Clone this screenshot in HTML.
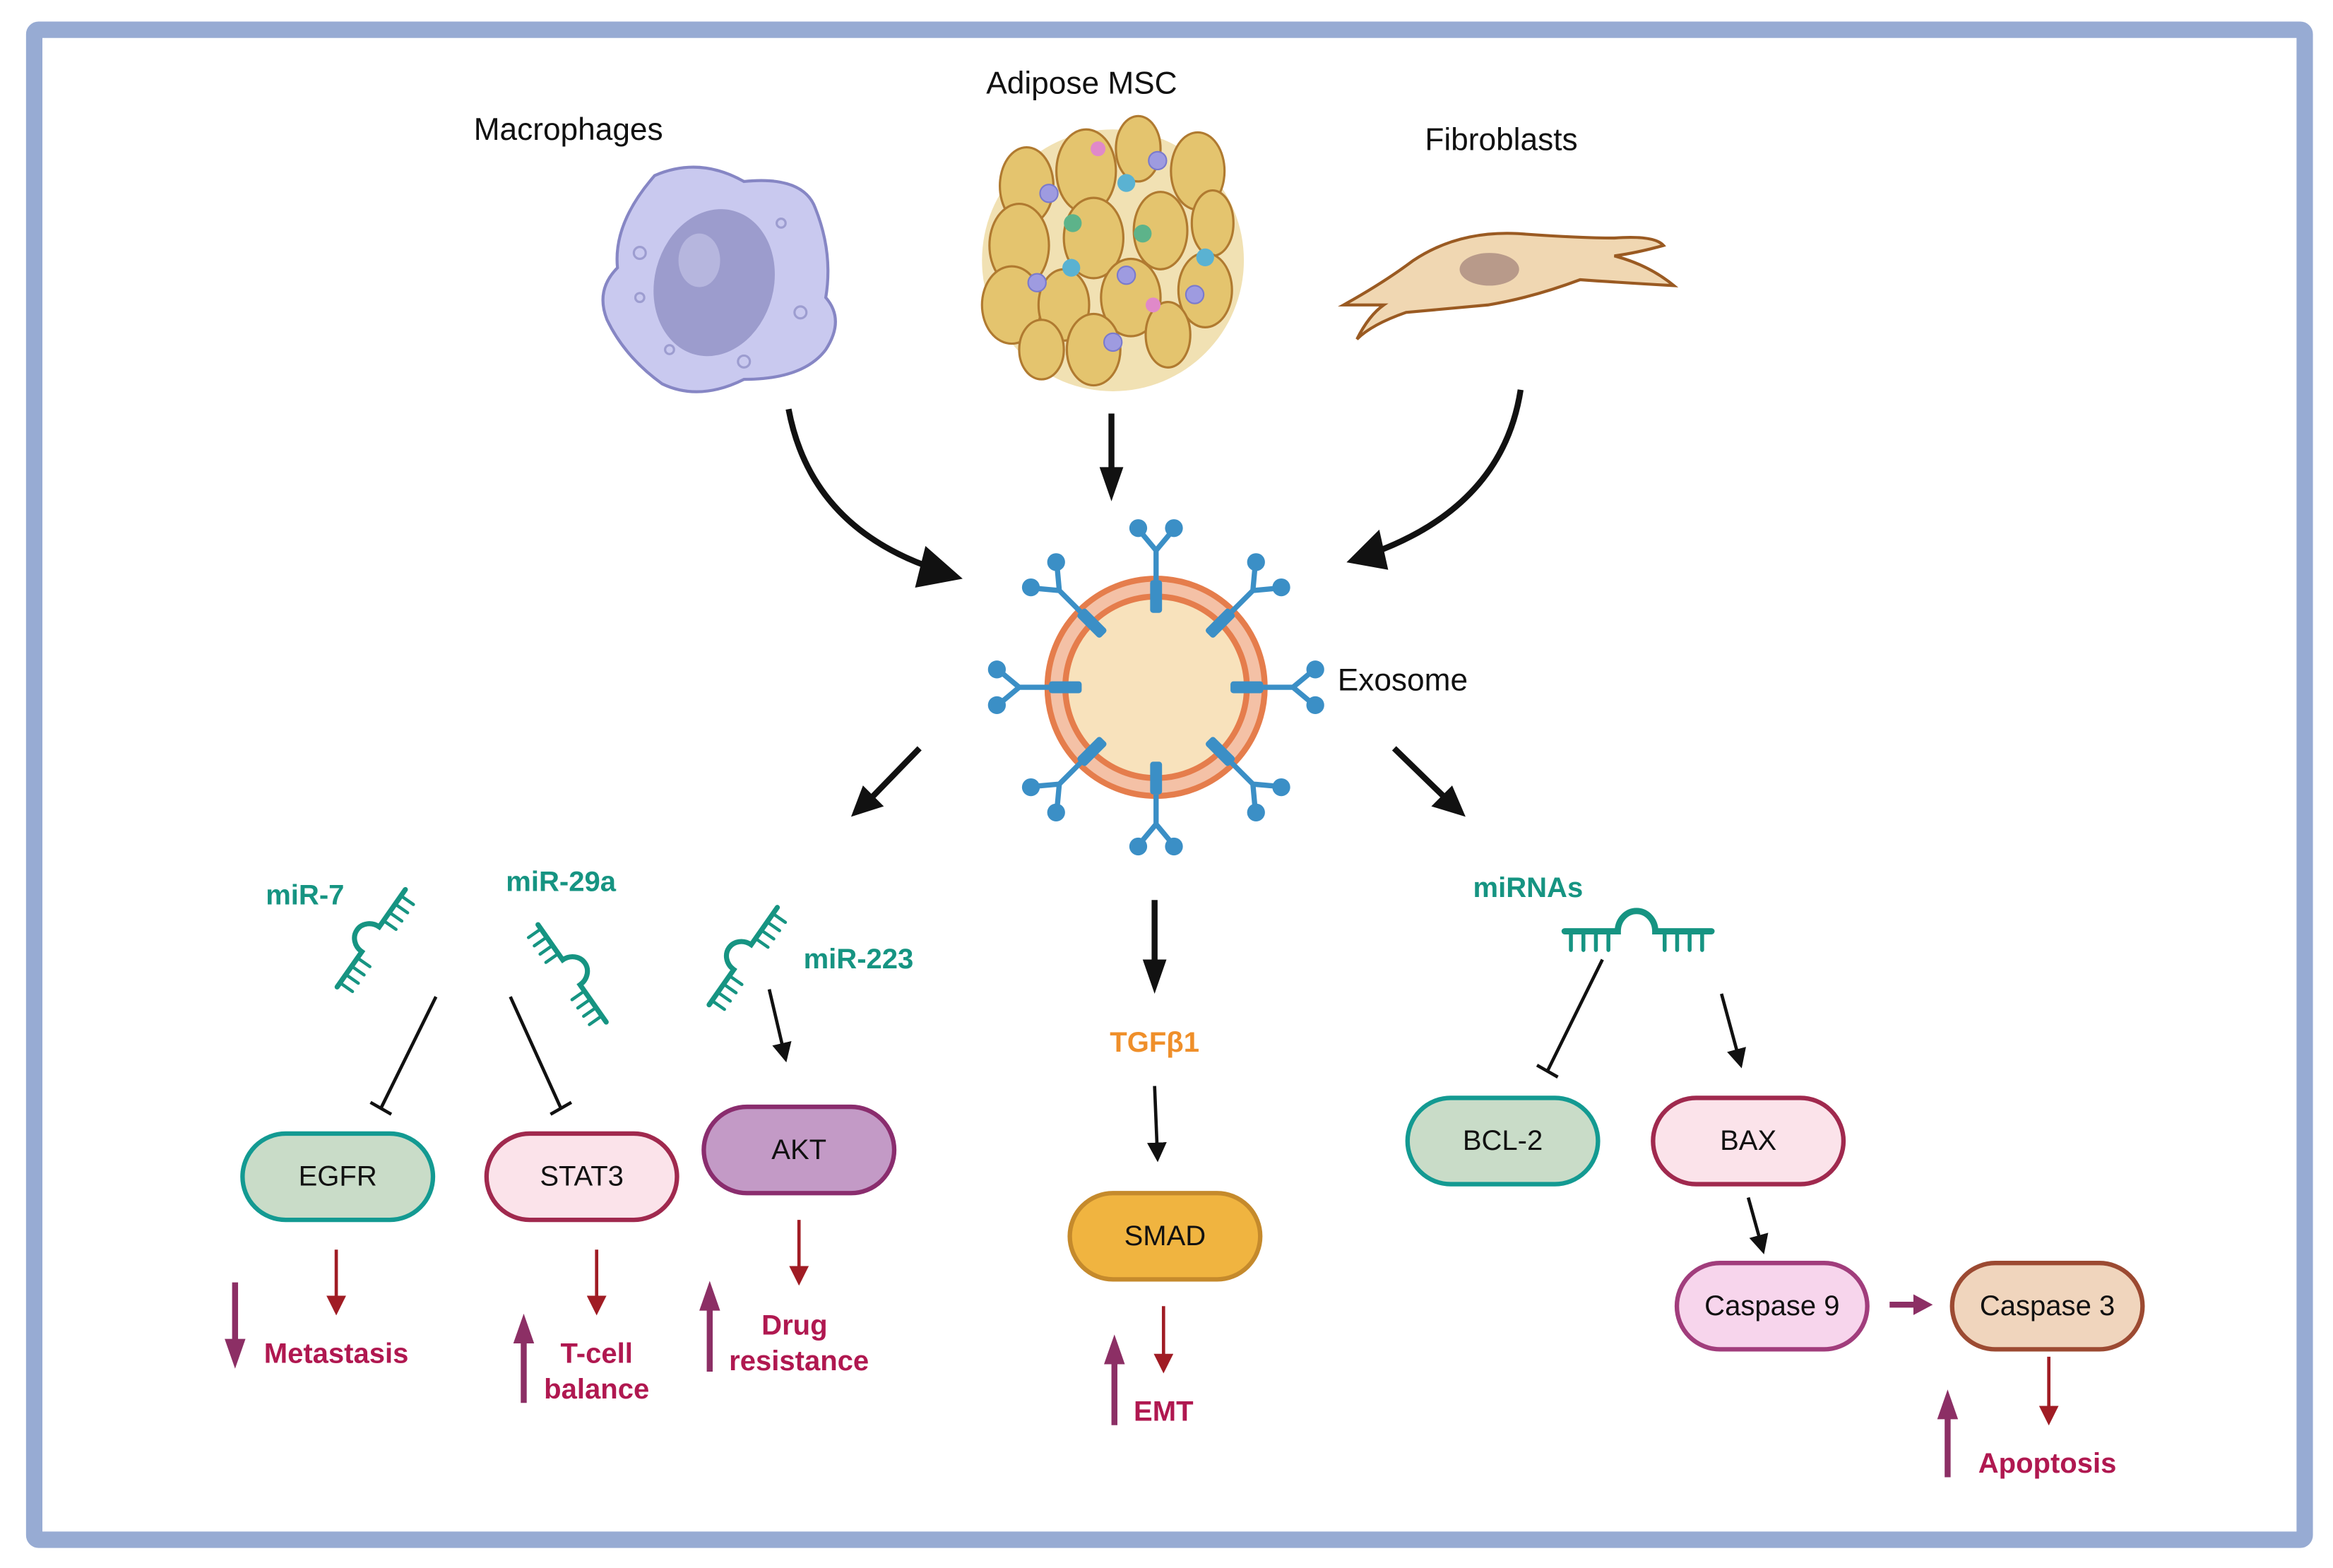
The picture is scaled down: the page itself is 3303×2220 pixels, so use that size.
<!DOCTYPE html>
<html><head><meta charset="utf-8"><style>
html,body{margin:0;padding:0;background:#fff;}
svg{display:block;}
text{font-family:"Liberation Sans",sans-serif;}
</style></head><body>
<svg width="3303" height="2220" viewBox="0 0 1568 1054" preserveAspectRatio="none" xmlns="http://www.w3.org/2000/svg">
<defs>
<marker id="ab" markerWidth="6" markerHeight="6" refX="5" refY="3" orient="auto" markerUnits="strokeWidth"><path d="M0,0 L6,3 L0,6 Z" fill="#111"/></marker>
<marker id="ar" markerWidth="6" markerHeight="6" refX="5" refY="3" orient="auto" markerUnits="strokeWidth"><path d="M0,0 L6,3 L0,6 Z" fill="#a01c24"/></marker>
<g id="rec">
 <rect x="-4" y="-72" width="8" height="22" rx="2" fill="#3b8fc6"/>
 <path d="M0,-72 L0,-92 M0,-92 L-10,-104 M0,-92 L10,-104" stroke="#3b8fc6" stroke-width="3.5" fill="none"/>
 <circle cx="-12" cy="-107" r="6" fill="#3b8fc6"/><circle cx="12" cy="-107" r="6" fill="#3b8fc6"/>
</g>
<g id="mir" stroke="#169482" stroke-width="4" fill="none" stroke-linecap="round">
 <path d="M-48,0 L-14,0 A12,13 0 0 1 10,0 L46,0"/>
 <path d="M-44,0 v12 M-36,0 v12 M-28,0 v12 M-20,0 v12 M16,0 v12 M24,0 v12 M32,0 v12 M40,0 v12" stroke-width="2.5"/>
</g>
</defs>
<rect x="0" y="0" width="1568" height="1054" fill="#fff"/>
<rect x="23" y="20" width="1526" height="1015" fill="#fff" stroke="#97abd3" stroke-width="11" rx="3"/>

<!-- top labels -->
<text x="382" y="94" font-size="21" text-anchor="middle" fill="#111">Macrophages</text>
<text x="727" y="63" font-size="21" text-anchor="middle" fill="#111">Adipose MSC</text>
<text x="1009" y="101" font-size="21" text-anchor="middle" fill="#111">Fibroblasts</text>
<text x="899" y="464" font-size="21" fill="#111">Exosome</text>

<!-- macrophage -->
<path d="M440,118 Q470,105 500,122 Q540,118 548,140 Q560,170 555,200 Q568,215 555,235 Q540,255 500,255 Q470,270 445,258 Q420,240 408,215 Q400,195 415,180 Q412,150 440,118 Z" fill="#c9c9ef" stroke="#8686c4" stroke-width="2"/>
<ellipse cx="480" cy="190" rx="40" ry="50" fill="#9c9ccd" transform="rotate(15 480 190)"/>
<ellipse cx="470" cy="175" rx="14" ry="18" fill="#b6b6de"/>
<g fill="none" stroke="#9d9dd0" stroke-width="1.5"><circle cx="430" cy="170" r="4"/><circle cx="525" cy="150" r="3"/><circle cx="538" cy="210" r="4"/><circle cx="450" cy="235" r="3"/><circle cx="500" cy="243" r="4"/><circle cx="430" cy="200" r="3"/></g>

<!-- adipose MSC -->
<g stroke="#b07a30" stroke-width="1.5" fill="#e4c46e">
<circle cx="748" cy="175" r="88" fill="#f1e1b3" stroke="none"/>
<ellipse cx="690" cy="125" rx="18" ry="26"/><ellipse cx="730" cy="115" rx="20" ry="28"/><ellipse cx="765" cy="100" rx="15" ry="22"/><ellipse cx="805" cy="115" rx="18" ry="26"/>
<ellipse cx="685" cy="165" rx="20" ry="28"/><ellipse cx="735" cy="160" rx="20" ry="27"/><ellipse cx="780" cy="155" rx="18" ry="26"/><ellipse cx="815" cy="150" rx="14" ry="22"/>
<ellipse cx="680" cy="205" rx="20" ry="26"/><ellipse cx="715" cy="205" rx="17" ry="24"/><ellipse cx="760" cy="200" rx="20" ry="26"/><ellipse cx="810" cy="195" rx="18" ry="25"/>
<ellipse cx="700" cy="235" rx="15" ry="20"/><ellipse cx="735" cy="235" rx="18" ry="24"/><ellipse cx="785" cy="225" rx="15" ry="22"/>
</g>
<g stroke="#7a7acc" stroke-width="1"><circle cx="705" cy="130" r="6" fill="#9e9be0"/><circle cx="778" cy="108" r="6" fill="#9e9be0"/><circle cx="697" cy="190" r="6" fill="#9e9be0"/><circle cx="757" cy="185" r="6" fill="#9e9be0"/><circle cx="803" cy="198" r="6" fill="#9e9be0"/><circle cx="748" cy="230" r="6" fill="#9e9be0"/></g>
<circle cx="757" cy="123" r="6" fill="#5ab2d2"/><circle cx="720" cy="180" r="6" fill="#5ab2d2"/><circle cx="810" cy="173" r="6" fill="#5ab2d2"/>
<circle cx="721" cy="150" r="6" fill="#5db38a"/><circle cx="768" cy="157" r="6" fill="#5db38a"/>
<circle cx="738" cy="100" r="5" fill="#e089c9"/><circle cx="775" cy="205" r="5" fill="#e089c9"/>

<!-- fibroblast -->
<path d="M903,205 Q930,190 950,175 Q980,155 1020,157 Q1060,160 1085,160 Q1112,158 1118,165 Q1100,170 1085,172 Q1108,178 1125,192 Q1090,190 1062,188 Q1030,200 1000,205 Q968,208 945,210 Q922,218 912,228 Q920,212 930,205 Q915,205 903,205 Z" fill="#f0d7b2" stroke="#9a5a22" stroke-width="2"/>
<ellipse cx="1001" cy="181" rx="20" ry="11" fill="#b89a8a"/>

<!-- input arrows -->
<path d="M530,275 Q545,355 630,383" stroke="#111" stroke-width="4" fill="none"/>
<path d="M647,389 L622,367 L615,395 Z" fill="#111"/>
<line x1="747" y1="278" x2="747" y2="318" stroke="#111" stroke-width="4"/>
<path d="M747,337 L739,314 L755,314 Z" fill="#111"/>
<path d="M1022,262 Q1010,340 922,372" stroke="#111" stroke-width="4" fill="none"/>
<path d="M905,378 L927,356 L933,383 Z" fill="#111"/>

<!-- exosome -->
<circle cx="777" cy="462" r="73" fill="#f4c1a6" stroke="#e57d4c" stroke-width="4"/>
<circle cx="777" cy="462" r="61" fill="#f8e2bc" stroke="#e57d4c" stroke-width="4"/>
<g transform="translate(777,462)">
<use href="#rec"/><use href="#rec" transform="rotate(45)"/><use href="#rec" transform="rotate(90)"/><use href="#rec" transform="rotate(135)"/><use href="#rec" transform="rotate(180)"/><use href="#rec" transform="rotate(225)"/><use href="#rec" transform="rotate(270)"/><use href="#rec" transform="rotate(315)"/>
</g>

<!-- output arrows -->
<line x1="618" y1="503" x2="585" y2="537" stroke="#111" stroke-width="4"/>
<path d="M572,549 L580,528 L594,542 Z" fill="#111"/>
<line x1="937" y1="503" x2="972" y2="537" stroke="#111" stroke-width="4"/>
<path d="M985,549 L962,542 L976,528 Z" fill="#111"/>
<line x1="776" y1="605" x2="776" y2="648" stroke="#111" stroke-width="4"/>
<path d="M776,668 L768,645 L784,645 Z" fill="#111"/>

<!-- miRNA glyphs -->
<use href="#mir" transform="translate(250,630) rotate(-55) scale(0.85)"/>
<use href="#mir" transform="translate(385,655) rotate(55) scale(0.85)"/>
<use href="#mir" transform="translate(500,642) rotate(-55) scale(0.85)"/>
<use href="#mir" transform="translate(1102,626) scale(1.05)"/>

<g font-weight="bold" font-size="19" fill="#169482">
<text x="205" y="608" text-anchor="middle">miR-7</text>
<text x="377" y="599" text-anchor="middle">miR-29a</text>
<text x="577" y="651" text-anchor="middle">miR-223</text>
<text x="1027" y="603" text-anchor="middle">miRNAs</text>
</g>
<text x="776" y="707" font-weight="bold" font-size="19" fill="#ef8f2a" text-anchor="middle">TGFβ1</text>

<!-- connectors -->
<g stroke="#111" stroke-width="2.2" fill="none">
<line x1="293" y1="670" x2="256" y2="745"/><line x1="249" y1="741" x2="263" y2="749"/>
<line x1="343" y1="670" x2="377" y2="745"/><line x1="370" y1="749" x2="384" y2="741"/>
<line x1="1077" y1="645" x2="1040" y2="720"/><line x1="1033" y1="716" x2="1047" y2="724"/>
<line x1="517" y1="665" x2="528" y2="712" marker-end="url(#ab)"/>
<line x1="776" y1="730" x2="778" y2="779" marker-end="url(#ab)"/>
<line x1="1157" y1="668" x2="1170" y2="716" marker-end="url(#ab)"/>
<line x1="1175" y1="805" x2="1185" y2="841" marker-end="url(#ab)"/>
</g>
<line x1="1270" y1="877" x2="1288" y2="877" stroke="#8c2f65" stroke-width="4"/>
<path d="M1299,877 L1286,870 L1286,884 Z" fill="#8c2f65"/>

<!-- boxes -->
<g stroke-width="3" font-size="19" text-anchor="middle">
<rect x="163" y="762" width="128" height="58" rx="29" fill="#c9dcc8" stroke="#139a92"/>
<rect x="327" y="762" width="128" height="58" rx="29" fill="#fbe3ea" stroke="#a0294e"/>
<rect x="473" y="744" width="128" height="58" rx="29" fill="#c39ac6" stroke="#8a2d6e"/>
<rect x="719" y="802" width="128" height="58" rx="29" fill="#f0b440" stroke="#c58a2c"/>
<rect x="946" y="738" width="128" height="58" rx="29" fill="#c9dcc8" stroke="#139a92"/>
<rect x="1111" y="738" width="128" height="58" rx="29" fill="#fbe3ea" stroke="#a0294e"/>
<rect x="1127" y="849" width="128" height="58" rx="29" fill="#f7d5ec" stroke="#a13d7c"/>
<rect x="1312" y="849" width="128" height="58" rx="29" fill="#f0d5bd" stroke="#9c4a32"/>
</g>
<g font-size="19" text-anchor="middle" fill="#111">
<text x="227" y="797">EGFR</text><text x="391" y="797">STAT3</text><text x="537" y="779">AKT</text><text x="783" y="837">SMAD</text>
<text x="1010" y="773">BCL-2</text><text x="1175" y="773">BAX</text><text x="1191" y="884">Caspase 9</text><text x="1376" y="884">Caspase 3</text>
</g>

<!-- red arrows -->
<g stroke="#a01c24" stroke-width="2.2" marker-end="url(#ar)">
<line x1="226" y1="840" x2="226" y2="882"/><line x1="401" y1="840" x2="401" y2="882"/>
<line x1="537" y1="820" x2="537" y2="862"/><line x1="782" y1="878" x2="782" y2="921"/>
<line x1="1377" y1="912" x2="1377" y2="956"/>
</g>
<!-- purple arrows -->
<g stroke="#8c2f65" stroke-width="4">
<line x1="158" y1="862" x2="158" y2="905"/><line x1="352" y1="943" x2="352" y2="898"/>
<line x1="477" y1="922" x2="477" y2="876"/><line x1="749" y1="958" x2="749" y2="912"/>
<line x1="1309" y1="993" x2="1309" y2="949"/>
</g>
<g fill="#8c2f65">
<path d="M158,920 L151,900 L165,900 Z"/><path d="M352,883 L345,903 L359,903 Z"/>
<path d="M477,861 L470,881 L484,881 Z"/><path d="M749,897 L742,917 L756,917 Z"/>
<path d="M1309,934 L1302,954 L1316,954 Z"/>
</g>
<g font-weight="bold" font-size="19" fill="#b01850" text-anchor="middle">
<text x="226" y="916">Metastasis</text>
<text x="401" y="916">T-cell</text><text x="401" y="940">balance</text>
<text x="534" y="897">Drug</text><text x="537" y="921">resistance</text>
<text x="782" y="955">EMT</text>
<text x="1376" y="990">Apoptosis</text>
</g>
</svg>
</body></html>
